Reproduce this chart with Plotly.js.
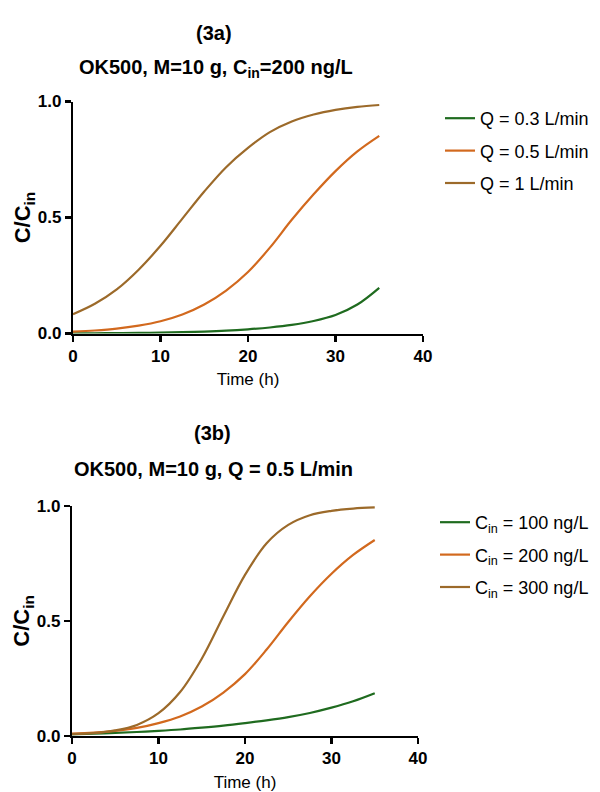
<!DOCTYPE html>
<html>
<head>
<meta charset="utf-8">
<script src="https://cdn.plot.ly/plotly-3.0.1.min.js"></script>
<style>html,body{margin:0;padding:0;background:#fff;}#chart{width:600px;height:792px;}</style>
</head>
<body>
<div id="chart"></div>
<script>
// Time (h)
var time = [0, 2.5, 5, 7.5, 10, 12.5, 15, 17.5, 20, 22.5, 25, 27.5, 30, 32.5, 35];

// (3a) OK500, M=10 g, Cin=200 ng/L
var namesA = ["Q = 0.3 L/min", "Q = 0.5 L/min", "Q = 1 L/min"];
var q03 = [0.0007, 0.001, 0.0017, 0.0025, 0.0037, 0.0055, 0.008, 0.012, 0.018, 0.026, 0.037, 0.054, 0.080, 0.125, 0.197];
var q05 = [0.008, 0.013, 0.021, 0.034, 0.053, 0.082, 0.125, 0.185, 0.265, 0.370, 0.490, 0.600, 0.700, 0.785, 0.852];
var q1  = [0.083, 0.128, 0.190, 0.275, 0.378, 0.495, 0.612, 0.717, 0.800, 0.868, 0.914, 0.944, 0.964, 0.977, 0.985];

// (3b) OK500, M=10 g, Q = 0.5 L/min
var namesB = ["C<sub>in</sub> = 100 ng/L", "C<sub>in</sub> = 200 ng/L", "C<sub>in</sub> = 300 ng/L"];
var c100 = [0.006, 0.009, 0.012, 0.016, 0.021, 0.027, 0.035, 0.044, 0.055, 0.067, 0.081, 0.099, 0.122, 0.150, 0.185];
var c200 = [0.009, 0.013, 0.021, 0.034, 0.055, 0.084, 0.127, 0.188, 0.268, 0.375, 0.495, 0.607, 0.705, 0.787, 0.852];
var c300 = [0.007, 0.011, 0.023, 0.047, 0.098, 0.190, 0.335, 0.520, 0.700, 0.838, 0.918, 0.960, 0.979, 0.989, 0.994];

var colors = ["#1f6b1f", "#d2691e", "#9c6a2a"];
var FONT = "Liberation Sans, Arial, sans-serif";

var seriesA = [q03, q05, q1];
var seriesB = [c100, c200, c300];
var traces = [];
seriesA.forEach(function (s, i) {
  traces.push({x: time, y: s, name: namesA[i], type: "scatter", mode: "lines",
    line: {color: colors[i], width: 2.2, shape: "spline", smoothing: 1},
    xaxis: "x", yaxis: "y", legend: "legend", legendgroup: "a" + i});
});
seriesB.forEach(function (s, i) {
  traces.push({x: time, y: s, name: namesB[i], type: "scatter", mode: "lines",
    line: {color: colors[i], width: 2.2, shape: "spline", smoothing: 1},
    xaxis: "x2", yaxis: "y2", legend: "legend2", legendgroup: "b" + i});
});

function xax(domain, anchor, standoff) {
  return {domain: domain, anchor: anchor, range: [0, 40], dtick: 10, tick0: 0,
    showgrid: false, zeroline: false, showline: true, linecolor: "#000", linewidth: 2.2,
    ticks: "outside", ticklen: 6, tickwidth: 2.2, tickcolor: "#000",
    tickfont: {family: FONT, size: 17, color: "#000", weight: "bold"},
    title: {text: "Time (h)", font: {family: FONT, size: 17, color: "#000"}, standoff: standoff}};
}
function yax(domain, anchor) {
  return {domain: domain, anchor: anchor, range: [0, 1], dtick: 0.5, tick0: 0, tickformat: ".1f",
    showgrid: false, zeroline: false, showline: true, linecolor: "#000", linewidth: 2.2,
    ticks: "outside", ticklen: 6, tickwidth: 2.2, tickcolor: "#000",
    tickfont: {family: FONT, size: 17, color: "#000", weight: "bold"},
    title: {text: "<b>C/C<sub>in</sub></b>", font: {family: FONT, size: 22, color: "#000"}, standoff: 1}};
}

var legendBase = {xanchor: "left", yanchor: "top", bgcolor: "rgba(0,0,0,0)",
  font: {family: FONT, size: 18, color: "#000"}, tracegroupgap: 6, itemwidth: 30};

var layout = {
  width: 600, height: 792,
  margin: {l: 0, r: 0, t: 0, b: 0},
  paper_bgcolor: "#fff", plot_bgcolor: "#fff",
  showlegend: true,
  xaxis: xax([73 / 600, 423 / 600], "y", 8),
  yaxis: yax([1 - 333.5 / 792, 1 - 101.5 / 792], "x"),
  xaxis2: xax([72 / 600, 418 / 600], "y2", 11),
  yaxis2: yax([1 - 735.7 / 792, 1 - 506 / 792], "x2"),
  legend: Object.assign({}, legendBase, {x: 440 / 600, y: 1 - 100 / 792}),
  legend2: Object.assign({}, legendBase, {x: 435 / 600, y: 1 - 504 / 792}),
  annotations: [
    {text: "<b>(3a)</b>", x: 214 / 600, y: 1 - 33 / 792, xref: "paper", yref: "paper", showarrow: false,
      font: {family: FONT, size: 20, color: "#000"}, xanchor: "center", yanchor: "middle"},
    {text: "<b>OK500, M=10 g, C<sub>in</sub>=200 ng/L</b>", x: 216 / 600, y: 1 - 68 / 792, xref: "paper", yref: "paper", showarrow: false,
      font: {family: FONT, size: 20, color: "#000"}, xanchor: "center", yanchor: "middle"},
    {text: "<b>(3b)</b>", x: 212 / 600, y: 1 - 433 / 792, xref: "paper", yref: "paper", showarrow: false,
      font: {family: FONT, size: 20, color: "#000"}, xanchor: "center", yanchor: "middle"},
    {text: "<b>OK500, M=10 g, Q = 0.5 L/min</b>", x: 213 / 600, y: 1 - 469 / 792, xref: "paper", yref: "paper", showarrow: false,
      font: {family: FONT, size: 20, color: "#000"}, xanchor: "center", yanchor: "middle"}
  ]
};

Plotly.newPlot("chart", traces, layout, {displayModeBar: false, staticPlot: true});
</script>
</body>
</html>
